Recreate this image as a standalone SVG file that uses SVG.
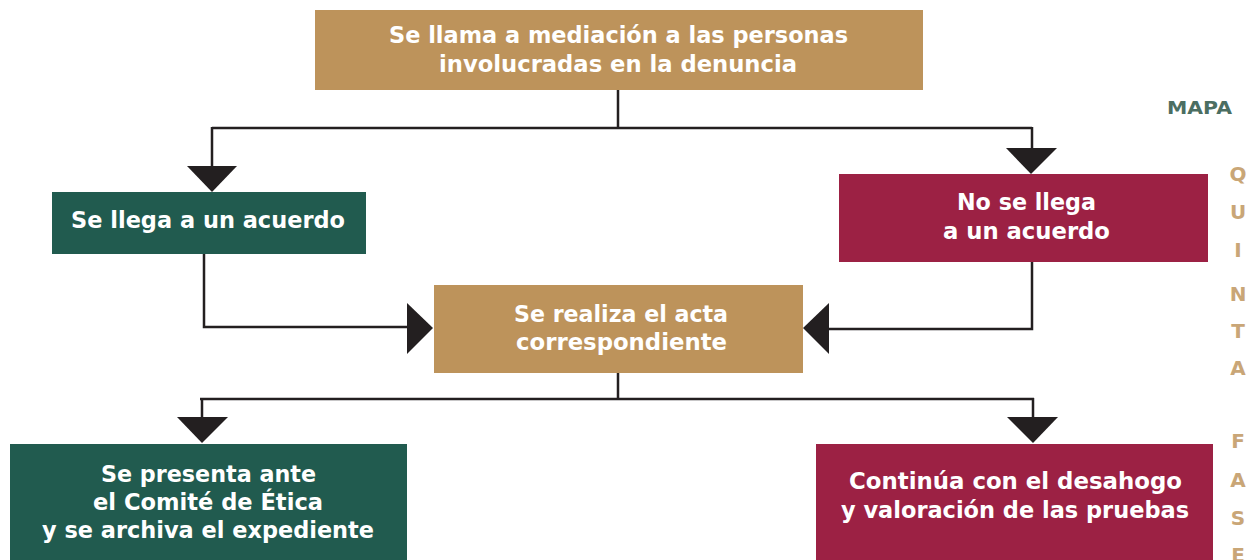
<svg xmlns="http://www.w3.org/2000/svg" width="1257" height="560" viewBox="0 0 1257 560">
<defs>
<style>
.gold{fill:#BD935B}
.green{fill:#215B4F}
.red{fill:#9C2144}
.t{font-family:"DejaVu Sans","Liberation Sans",sans-serif;font-weight:bold;font-size:22.5px;fill:#FFFFFF;text-anchor:middle}
.ln{fill:none;stroke:#231F20;stroke-width:2.5}
.ah{fill:#231F20}
.side{font-family:"DejaVu Sans","Liberation Sans",sans-serif;font-weight:bold;font-size:20px;fill:#C9A677;text-anchor:middle}
.mapa{font-family:"DejaVu Sans","Liberation Sans",sans-serif;font-weight:bold;font-size:18px;fill:#4B6E62;text-anchor:middle}
</style>
</defs>
<rect width="1257" height="560" fill="#FFFFFF"/>
<g id="connectors">
<path class="ln" d="M618 90 V128 M212 128 H1032 M212 127 V168 M1032 127 V150"/>
<polygon class="ah" points="187,166 237,166 212,192"/>
<polygon class="ah" points="1006,148 1057,148 1031,174"/>
<path class="ln" d="M204 254 V327 H410"/>
<polygon class="ah" points="407,303 407,354 433,328"/>
<path class="ln" d="M1032 262 V329 H827"/>
<polygon class="ah" points="829,303 829,354 803,328"/>
<path class="ln" d="M618 373 V399 M200 399 H1034 M202 398 V420 M1033 398 V420"/>
<polygon class="ah" points="177,417 228,417 202,443"/>
<polygon class="ah" points="1007,417 1058,417 1033,443"/>
</g>
<g id="n1">
<rect class="gold" x="315" y="10" width="608" height="80"/>
<text class="t" x="618.5" y="43" textLength="459" lengthAdjust="spacingAndGlyphs">Se llama a mediación a las personas</text>
<text class="t" x="618" y="72" textLength="358" lengthAdjust="spacingAndGlyphs">involucradas en la denuncia</text>
</g>
<g id="n2">
<rect class="green" x="52" y="192" width="314" height="62"/>
<text class="t" x="208" y="228" textLength="274" lengthAdjust="spacingAndGlyphs">Se llega a un acuerdo</text>
</g>
<g id="n3">
<rect class="red" x="839" y="174" width="369" height="88"/>
<text class="t" x="1026.5" y="210" textLength="139" lengthAdjust="spacingAndGlyphs">No se llega</text>
<text class="t" x="1026.5" y="239" textLength="167" lengthAdjust="spacingAndGlyphs">a un acuerdo</text>
</g>
<g id="n4">
<rect class="gold" x="434" y="285" width="369" height="88"/>
<text class="t" x="621" y="322" textLength="214" lengthAdjust="spacingAndGlyphs">Se realiza el acta</text>
<text class="t" x="621.5" y="350" textLength="211" lengthAdjust="spacingAndGlyphs">correspondiente</text>
</g>
<g id="n5">
<rect class="green" x="10" y="444" width="397" height="116"/>
<text class="t" x="208.5" y="482" textLength="215" lengthAdjust="spacingAndGlyphs">Se presenta ante</text>
<text class="t" x="208" y="510" textLength="230" lengthAdjust="spacingAndGlyphs">el Comité de Ética</text>
<text class="t" x="208" y="538" textLength="332" lengthAdjust="spacingAndGlyphs">y se archiva el expediente</text>
</g>
<g id="n6">
<rect class="red" x="816" y="444" width="397" height="116"/>
<text class="t" x="1015.5" y="489" textLength="333" lengthAdjust="spacingAndGlyphs">Continúa con el desahogo</text>
<text class="t" x="1015" y="518" textLength="348" lengthAdjust="spacingAndGlyphs">y valoración de las pruebas</text>
</g>
<g id="sidebar">
<text class="mapa" x="1199.5" y="114" textLength="65" lengthAdjust="spacingAndGlyphs">MAPA</text>
<text class="side" x="1238" y="181">Q</text>
<text class="side" x="1238" y="219">U</text>
<text class="side" x="1238" y="257">I</text>
<text class="side" x="1238" y="301">N</text>
<text class="side" x="1238" y="338">T</text>
<text class="side" x="1238" y="375">A</text>
<text class="side" x="1238" y="448">F</text>
<text class="side" x="1238" y="487">A</text>
<text class="side" x="1238" y="525">S</text>
<text class="side" x="1238" y="562">E</text>
</g>
</svg>
